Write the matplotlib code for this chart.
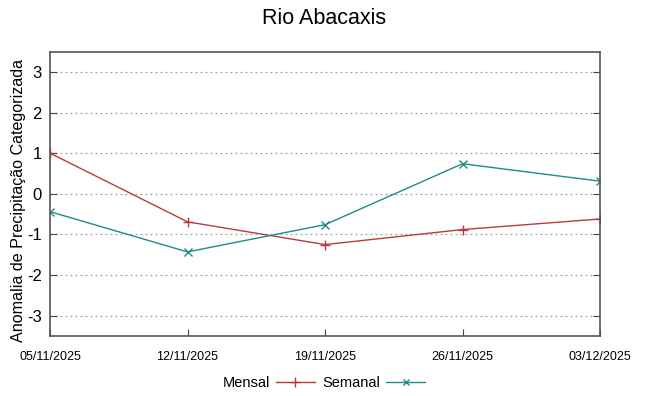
import matplotlib
matplotlib.use("Agg")
import matplotlib.pyplot as plt
from matplotlib.lines import Line2D

dates = ["05/11/2025", "12/11/2025", "19/11/2025", "26/11/2025", "03/12/2025"]
mensal = [1.0, -0.69, -1.25, -0.88, -0.62]
semanal = [-0.44, -1.43, -0.76, 0.74, 0.31]
yticks = [-3, -2, -1, 0, 1, 2, 3]

plt.rcParams['font.family'] = ['Liberation Sans', 'DejaVu Sans']

fig = plt.figure(figsize=(6.48, 3.96), dpi=100)
ax = fig.add_axes([50/648, 60/396, 550/648, (336-51.6)/396])

x = list(range(len(dates)))
red = "#b83a3c"
teal = "#218b88"
ax.plot(x, mensal, color=red, lw=1.0, marker='+', ms=7, mew=1.0, label="Mensal")
ax.plot(x, semanal, color=teal, lw=1.0, marker='x', ms=5.5, mew=1.0, label="Semanal")

ax.set_xlim(0, len(dates)-1)
ax.set_ylim(-3.5, 3.5)
ax.set_yticks(yticks)
ax.set_yticklabels([str(v) for v in yticks], fontsize=12)
ax.set_xticks(x)
ax.set_xticklabels(dates, fontsize=9, family=['Liberation Sans Narrow', 'Liberation Sans'])
ax.tick_params(direction='in', length=5, color='#444444', right=True, top=False, pad=6)
ax.tick_params(axis='x', pad=11)
ax.grid(axis='y', color='#a0a0a0', linestyle=(0, (1.5, 2.5)), lw=0.9)
for s in ax.spines.values():
    s.set_color('#555555')
    s.set_linewidth(1.2)
ax.set_ylabel("Anomalia de Precipitação Categorizada", fontsize=11.6)
ax.yaxis.set_label_coords(-0.043, 0.478)
fig.text(0.5, 1-18/396, "Rio Abacaxis", ha='center', va='center', fontsize=15.5)

handles = [Line2D([], [], color=red, lw=1.0, marker='+', ms=7, mew=1.0),
           Line2D([], [], color=teal, lw=1.0, marker='x', ms=5, mew=1.0)]
leg = fig.legend(handles=handles, labels=["Mensal", "Semanal"], loc='center', bbox_to_anchor=(0.5, 1-383/396),
                 ncol=2, frameon=False, fontsize=10.5, markerfirst=False, handlelength=2.7, columnspacing=0.5,
                 handletextpad=0.4, numpoints=1)
fig.savefig("out.png", dpi=100)
